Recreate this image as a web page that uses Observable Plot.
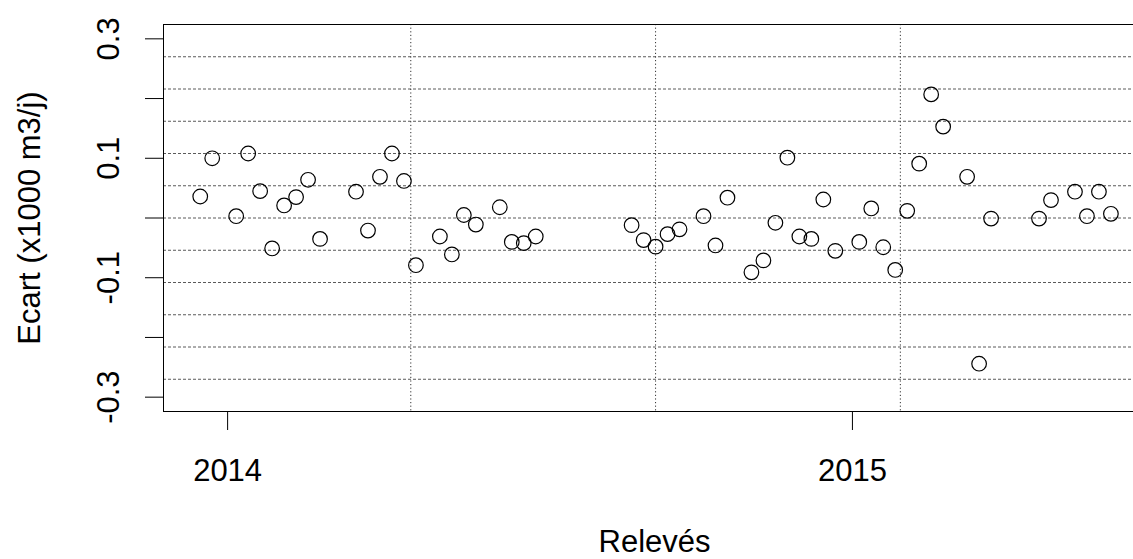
<!DOCTYPE html>
<html>
<head>
<meta charset="utf-8">
<script src="https://cdn.jsdelivr.net/npm/d3@7"></script>
<script src="https://cdn.jsdelivr.net/npm/@observablehq/plot@0.6"></script>
<style>
  html, body { margin: 0; padding: 0; background: white; overflow: hidden; }
  #chart svg { display: block; }
</style>
</head>
<body>
<div id="chart"></div>
<script>
// Dates des relevés (hebdomadaires)
const releves = ["2013-12-16","2013-12-23","2014-01-06","2014-01-13","2014-01-20","2014-01-27","2014-02-03","2014-02-10","2014-02-17","2014-02-24",
  "2014-03-17","2014-03-24","2014-03-31","2014-04-07","2014-04-14","2014-04-21","2014-05-05","2014-05-12","2014-05-19","2014-05-26",
  "2014-06-09","2014-06-16","2014-06-23","2014-06-30","2014-08-25","2014-09-01","2014-09-08","2014-09-15","2014-09-22","2014-10-06",
  "2014-10-13","2014-10-20","2014-11-03","2014-11-10","2014-11-17","2014-11-24","2014-12-01","2014-12-08","2014-12-15","2014-12-22",
  "2015-01-05","2015-01-12","2015-01-19","2015-01-26","2015-02-02","2015-02-09","2015-02-16","2015-02-23","2015-03-09","2015-03-16",
  "2015-03-23","2015-04-20","2015-04-27","2015-05-11","2015-05-18","2015-05-25","2015-06-01"];
// Ecart (x1000 m3/j)
const ecarts = [0.036, 0.100, 0.003, 0.108, 0.045, -0.051, 0.021, 0.035, 0.064, -0.035,
  0.044, -0.021, 0.069, 0.108, 0.062, -0.079, -0.031, -0.061, 0.005, -0.011,
  0.018, -0.040, -0.042, -0.031, -0.012, -0.037, -0.048, -0.027, -0.019, 0.003,
  -0.046, 0.034, -0.091, -0.071, -0.008, 0.101, -0.031, -0.035, 0.031, -0.055,
  -0.040, 0.016, -0.049, -0.087, 0.012, 0.091, 0.207, 0.153, 0.069, -0.244,
  -0.001, -0.001, 0.030, 0.044, 0.003, 0.044, 0.007];

const yTicks = [-0.3, -0.2, -0.1, 0, 0.1, 0.2, 0.3];
const yTickLabels = ["-0.3", "", "-0.1", "", "0.1", "", "0.3"];
const xTicks = ["2014-01-01", "2015-01-01"];
const xTickLabels = ["2014", "2015"];
const xDomain = ["2013-11-24T13:00:00Z", "2015-06-21T05:00:00Z"];
const yDomain = [-0.324, 0.324];
const gridY = [-0.27, -0.216, -0.162, -0.108, -0.054, 0, 0.054, 0.108, 0.162, 0.216, 0.27];
const gridX = ["2014-04-18", "2014-09-08", "2015-01-29"];

const data = releves.map((d, i) => ({date: new Date(d), ecart: ecarts[i]}));
const xTickDates = xTicks.map(d => new Date(d));
const fmtY = v => { const i = yTicks.findIndex(t => Math.abs(t - v) < 1e-9); return i >= 0 ? yTickLabels[i] : ""; };
const fmtX = v => { const i = xTickDates.findIndex(t => +t === +v); return i >= 0 ? xTickLabels[i] : ""; };

const font = "'Liberation Sans', Arial, Helvetica, sans-serif";

const chart = Plot.plot({
  width: 1133,
  height: 559,
  marginLeft: 163,
  marginRight: -12,
  marginTop: 24,
  marginBottom: 148,
  style: {fontFamily: font, fontSize: "31px", color: "black", background: "white", maxWidth: "none"},
  x: {type: "utc", domain: xDomain.map(d => new Date(d))},
  y: {domain: yDomain},
  marks: [
    Plot.ruleY(gridY, {stroke: "#5a5a5a", strokeWidth: 1, strokeDasharray: "3,2"}),
    Plot.ruleX(gridX.map(d => new Date(d)), {stroke: "#333", strokeWidth: 1, strokeDasharray: "1.2,2.4"}),
    Plot.dot(data, {x: "date", y: "ecart", r: 7.3, stroke: "black", strokeWidth: 1.2, fill: "none"}),
    Plot.frame({stroke: "black", strokeWidth: 1}),
    Plot.axisY({
      ticks: yTicks, tickFormat: fmtY, tickSize: 18, tickPadding: 27, tickRotate: -90,
      fontSize: 31, label: "Ecart (x1000 m3/j)", labelAnchor: "center", labelOffset: 146, labelArrow: "none"
    }),
    Plot.axisX({
      ticks: xTickDates, tickFormat: fmtX, tickSize: 19, tickPadding: 28,
      fontSize: 31, label: "Relevés", labelAnchor: "center", labelOffset: 140, labelArrow: "none"
    })
  ]
});
document.getElementById("chart").appendChild(chart);
</script>
</body>
</html>
